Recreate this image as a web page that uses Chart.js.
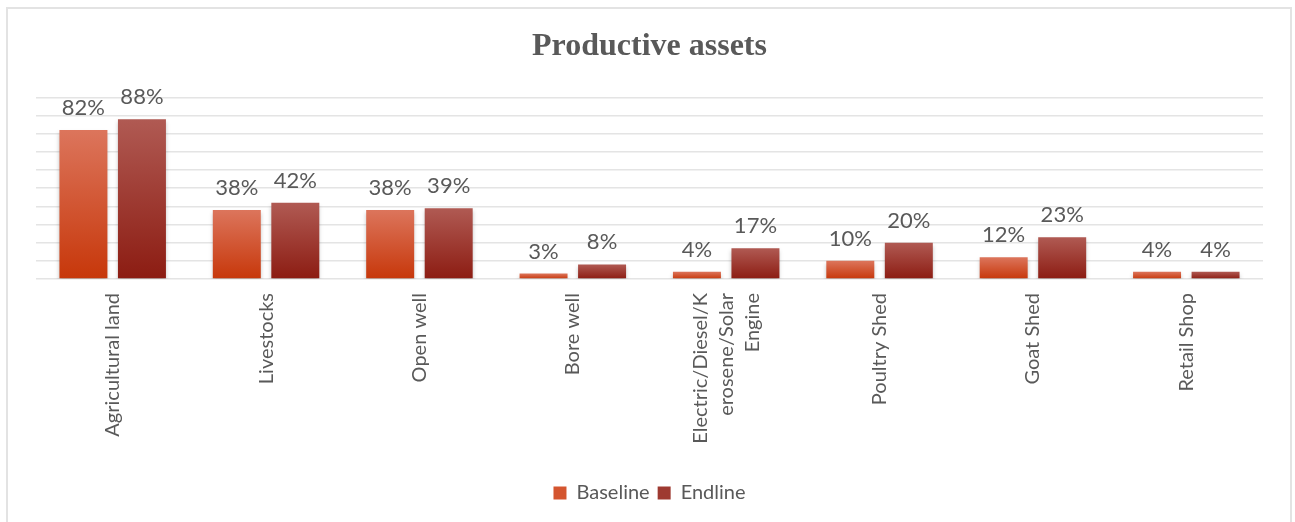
<!DOCTYPE html>
<html>
<head>
<meta charset="utf-8">
<title>Productive assets</title>
<script src="https://cdn.jsdelivr.net/npm/chart.js@4.4.1/dist/chart.umd.min.js"></script>
<style>
  html, body { margin: 0; padding: 0; background: #fff; }
  #wrap { position: relative; width: 1295px; height: 522px; }
</style>
</head>
<body>
<div id="wrap"><canvas id="assetsChart" width="1295" height="522"></canvas></div>
<script>
// Share of households owning each asset (%)
const categories = [
  'Agricultural land',
  'Livestocks',
  'Open well',
  'Bore well',
  ['Electric/Diesel/K', 'erosene/Solar', 'Engine'],
  'Poultry Shed',
  'Goat Shed',
  'Retail Shop'
];
const baseline = [82, 38, 38, 3, 4, 10, 12, 4];
const endline = [88, 42, 39, 8, 17, 20, 23, 4];
const seriesNames = ['Baseline', 'Endline'];

const FONT = 'Lato, "Open Sans", sans-serif';
const TEXT = '#595959';

// vertical gradient per bar, from its top down to the axis
function barGradient(top, bottom) {
  return (ctx) => {
    const chart = ctx.chart;
    if (!chart.chartArea || ctx.raw === undefined) return bottom;
    const y = chart.scales.y;
    const y0 = y.getPixelForValue(ctx.raw);
    const y1 = y.getPixelForValue(0);
    const g = chart.ctx.createLinearGradient(0, y0, 0, y1);
    g.addColorStop(0, top);
    g.addColorStop(1, bottom);
    return g;
  };
}

// light frame round the whole chart
const framePlugin = {
  id: 'frame',
  beforeDraw(chart) {
    const ctx = chart.ctx;
    ctx.save();
    ctx.strokeStyle = '#e3e3e3';
    ctx.lineWidth = 2;
    ctx.strokeRect(7, 8, 1284, 540);
    ctx.restore();
  }
};

// soft drop shadow under the bars
const shadowPlugin = {
  id: 'barShadow',
  beforeDatasetsDraw(chart) {
    const ctx = chart.ctx;
    ctx.save();
    ctx.shadowColor = 'rgba(0,0,0,0.22)';
    ctx.shadowBlur = 4;
    ctx.shadowOffsetY = 3;
  },
  afterDatasetsDraw(chart) {
    chart.ctx.restore();
  }
};

// value labels above bars and rotated category labels
const labelPlugin = {
  id: 'labels',
  afterDraw(chart) {
    const ctx = chart.ctx;
    ctx.save();
    ctx.fillStyle = TEXT;
    ctx.font = '22px ' + FONT;
    ctx.textAlign = 'center';
    ctx.textBaseline = 'alphabetic';
    chart.data.datasets.forEach((ds, di) => {
      chart.getDatasetMeta(di).data.forEach((bar, i) => {
        ctx.fillText(ds.data[i] + '%', bar.x, bar.y - 15);
      });
    });

    const xs = chart.scales.x;
    const top = chart.chartArea.bottom + 14;
    const lh = 26;
    ctx.font = '20px ' + FONT;
    ctx.textAlign = 'right';
    ctx.textBaseline = 'middle';
    categories.forEach((lab, i) => {
      const lines = Array.isArray(lab) ? lab : [lab];
      const px = xs.getPixelForTick(i);
      ctx.save();
      ctx.translate(px, top);
      ctx.rotate(-Math.PI / 2);
      lines.forEach((line, j) => {
        ctx.fillText(line, 0, (j - (lines.length - 1) / 2) * lh);
      });
      ctx.restore();
    });
    ctx.restore();
  }
};

new Chart(document.getElementById('assetsChart'), {
  type: 'bar',
  data: {
    labels: categories,
    datasets: [
      {
        label: seriesNames[0],
        data: baseline,
        backgroundColor: barGradient('#dc755c', '#c7370a'),
        categoryPercentage: 0.763,
        barPercentage: 0.82
      },
      {
        label: seriesNames[1],
        data: endline,
        backgroundColor: barGradient('#b05a53', '#8c1c12'),
        categoryPercentage: 0.763,
        barPercentage: 0.82
      }
    ]
  },
  options: {
    responsive: false,
    animation: false,
    layout: { padding: { left: 36, right: 32, top: 0, bottom: 9 } },
    plugins: {
      title: {
        display: true,
        text: 'Productive assets',
        color: TEXT,
        font: { family: '"Liberation Serif", "Times New Roman", serif', size: 32, weight: 'bold' },
        padding: { top: 28, bottom: 31 }
      },
      legend: {
        position: 'bottom',
        labels: {
          color: TEXT,
          font: { family: FONT, size: 20 },
          boxWidth: 13,
          boxHeight: 13,
          padding: 8,
          generateLabels(chart) {
            const fills = ['#d4552f', '#9e3a31'];
            return chart.data.datasets.map((ds, i) => ({
              text: ds.label,
              fillStyle: fills[i],
              strokeStyle: fills[i],
              lineWidth: 0,
              fontColor: TEXT,
              datasetIndex: i
            }));
          }
        }
      },
      tooltip: { enabled: false }
    },
    scales: {
      x: {
        grid: { display: false },
        border: { display: false },
        ticks: { display: false },
        afterFit(scale) { scale.height = 196; }
      },
      y: {
        min: 0,
        max: 100,
        ticks: { display: false, stepSize: 10 },
        border: { display: false },
        grid: { color: '#e4e4e4', lineWidth: 1.5, drawTicks: false },
        afterFit(scale) { scale.width = 0; }
      }
    }
  },
  plugins: [framePlugin, shadowPlugin, labelPlugin]
});
</script>
</body>
</html>
